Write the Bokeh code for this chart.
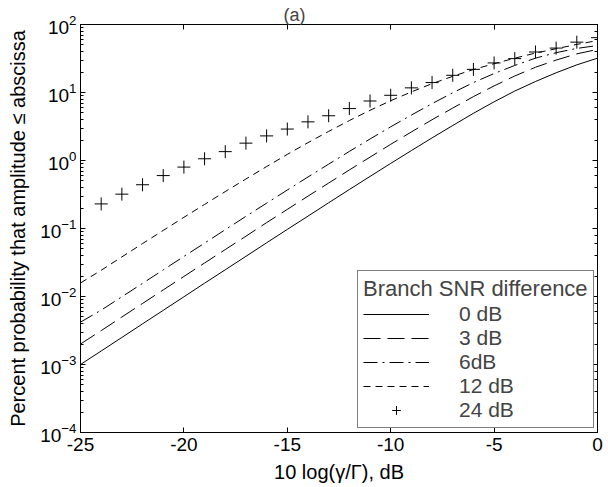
import math
from bokeh.plotting import figure
from bokeh.models import (Range1d, LogAxis, LinearAxis, FixedTicker, LogTicker,
                          Legend, LegendItem, Title)
from bokeh.embed import file_html
from bokeh.resources import INLINE

# ---------------- data ----------------
x_db = [-25, -24, -23, -22, -21, -20, -19, -18, -17, -16, -15, -14, -13,
        -12, -11, -10, -9, -8, -7, -6, -5, -4, -3, -2, -1, 0]
snr_0db = [0.0010, 0.00158, 0.0025, 0.00396, 0.00626, 0.0099, 0.0157, 0.0247,
           0.039, 0.0616, 0.097, 0.152, 0.239, 0.374, 0.583, 0.906, 1.40, 2.15,
           3.27, 4.94, 7.3, 10.5, 14.5, 19.5, 25.5, 32]
snr_3db = [0.0020, 0.00315, 0.005, 0.0079, 0.0125, 0.0197, 0.0311, 0.049,
           0.077, 0.122, 0.191, 0.299, 0.466, 0.725, 1.12, 1.73, 2.63, 3.98,
           5.9, 8.7, 12.5, 17.5, 23.5, 30, 37, 43]
snr_6db = [0.0042, 0.0063, 0.0099, 0.0156, 0.0246, 0.0388, 0.061, 0.096,
           0.151, 0.236, 0.368, 0.572, 0.884, 1.36, 2.07, 3.13, 4.66, 6.86,
           9.9, 14.0, 19, 25, 32, 38.5, 44.5, 49]
snr_12db = [0.0158, 0.0243, 0.0382, 0.060, 0.0936, 0.146, 0.226, 0.349,
            0.535, 0.815, 1.23, 1.83, 2.68, 3.87, 5.47, 7.57, 10.2, 13.5,
            17.3, 21.8, 26.5, 32, 38, 44, 51, 58]
x_plus = [-24, -23, -22, -21, -20, -19, -18, -17, -16, -15, -14, -13, -12,
          -11, -10, -9, -8, -7, -6, -5, -4, -3, -2, -1, 0]
snr_24db = [0.23, 0.32, 0.44, 0.60, 0.80, 1.06, 1.35, 1.8, 2.3, 2.9, 3.7,
            4.55, 5.8, 7.5, 9.1, 11.7, 14.0, 17.9, 21.9, 27.2, 31.5, 39.4,
            45, 55, 64]
series_labels = ["0 dB", "3 dB", "6dB", "12 dB", "24 dB"]
x_ticks = [-25, -20, -15, -10, -5, 0]
x_tick_labels = ["-25", "-20", "-15", "-10", "-5", "0"]
legend_title = "Branch SNR difference"
x_title = "10 log(\u03b3/\u0393), dB"
y_title = "Percent probability that amplitude \u2264 abscissa"
panel_title = "(a)"

FONT = "Liberation Sans"
X_MIN, X_MAX, Y_MIN, Y_MAX = -25, 0, 1e-4, 1e2

p = figure(width=605, height=485,
           x_range=Range1d(X_MIN, X_MAX), y_range=Range1d(Y_MIN, Y_MAX),
           y_axis_type="log", output_backend="svg", toolbar_location=None,
           min_border_left=80, min_border_right=8, min_border_top=24,
           min_border_bottom=51)
p.grid.visible = False
p.outline_line_color = "black"
p.outline_line_width = 1
p.background_fill_color = "white"
p.border_fill_color = "white"

bottom_axis = p.below[0]
left_axis = p.left[0]
bottom_axis.ticker = FixedTicker(ticks=x_ticks)
bottom_axis.major_label_overrides = {t: l for t, l in zip(x_ticks, x_tick_labels)}

top_axis = LinearAxis(ticker=FixedTicker(ticks=x_ticks))
p.add_layout(top_axis, "above")
right_axis = LogAxis(ticker=LogTicker())
p.add_layout(right_axis, "right")

for ax in [bottom_axis, left_axis, top_axis, right_axis]:
    ax.axis_line_color = "black"
    ax.major_tick_line_color = "black"
    ax.minor_tick_line_color = "black"
    ax.major_tick_in = 5
    ax.major_tick_out = 0
    ax.minor_tick_in = 3
    ax.minor_tick_out = 0
    ax.major_label_text_font = FONT
    ax.major_label_text_color = "black"
for ax in [bottom_axis, top_axis]:
    ax.minor_tick_line_color = None
for ax in [top_axis, right_axis]:
    ax.major_label_text_font_size = "1px"
    ax.major_label_text_alpha = 0.0
    ax.major_label_standoff = 0
bottom_axis.major_label_text_font_size = "19px"
left_axis.major_label_text_font_size = "19px"
bottom_axis.major_label_standoff = 5
left_axis.major_label_standoff = 4

for ax, txt, so in [(bottom_axis, x_title, 7), (left_axis, y_title, 8)]:
    ax.axis_label = txt
    ax.axis_label_text_font = FONT
    ax.axis_label_text_font_size = "20px"
    ax.axis_label_text_font_style = "normal"
    ax.axis_label_text_color = "black"
    ax.axis_label_standoff = so

p.add_layout(Title(text=panel_title, align="left", offset=203,
                   text_font=FONT, text_font_size="18px",
                   text_font_style="normal", standoff=0), "above")

# series
r0 = p.line(x_db, snr_0db, line_color="black", line_width=1)
r3 = p.line(x_db, snr_3db, line_color="black", line_width=1, line_dash="17 7")
r6 = p.line(x_db, snr_6db, line_color="black", line_width=1, line_dash="14 5 2 5")
r12 = p.line(x_db, snr_12db, line_color="black", line_width=1, line_dash="7 5")
r24 = p.scatter(x_plus, snr_24db, marker="cross", size=13,
                line_color="black", line_width=1)

legend = Legend(
    items=[LegendItem(label=lab, renderers=[r]) for lab, r in
           zip(series_labels, [r0, r3, r6, r12, r24])],
    location=(277, 4), title=legend_title,
    title_text_font=FONT, title_text_font_size="22px",
    title_text_font_style="normal", title_standoff=0,
    label_text_font=FONT, label_text_font_size="21px",
    glyph_width=66, glyph_height=22, label_height=22, label_standoff=30,
    spacing=0, padding=5, margin=0,
    border_line_color="black", border_line_width=1,
    background_fill_color="white", background_fill_alpha=1.0)
p.add_layout(legend)

open("out.html", "w").write(file_html(p, INLINE))
